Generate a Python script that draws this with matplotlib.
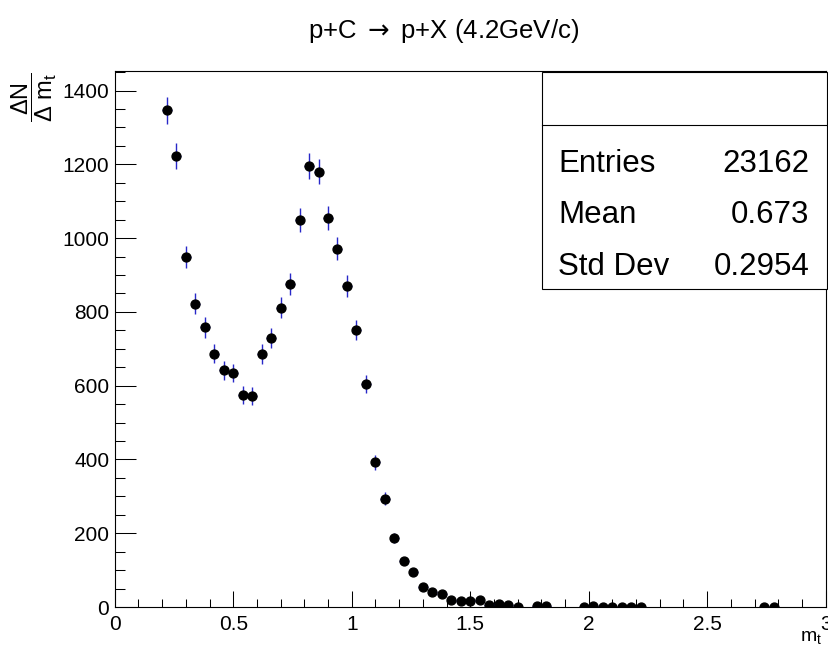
import numpy as np
import matplotlib
matplotlib.use("Agg")
import matplotlib.pyplot as plt
from matplotlib.ticker import MultipleLocator
from matplotlib.patches import Rectangle

plt.rcParams['font.family'] = ['Liberation Sans', 'DejaVu Sans']
plt.rcParams['mathtext.fontset'] = 'custom'
plt.rcParams['mathtext.rm'] = 'Liberation Sans'
plt.rcParams['mathtext.it'] = 'Liberation Sans:italic'
plt.rcParams['mathtext.sf'] = 'DejaVu Sans'

# ----------------------------- DATA ----------------------------- #

# bin centres (bin width 0.04, only non-empty bins are drawn)
m_t = [0.22, 0.26, 0.30, 0.34, 0.38, 0.42, 0.46, 0.50, 0.54, 0.58,
       0.62, 0.66, 0.70, 0.74, 0.78, 0.82, 0.86, 0.90, 0.94, 0.98,
       1.02, 1.06, 1.10, 1.14, 1.18, 1.22, 1.26, 1.30, 1.34, 1.38,
       1.42, 1.46, 1.50, 1.54, 1.58, 1.62, 1.66, 1.70, 1.78, 1.82,
       1.98, 2.02, 2.06, 2.10, 2.14, 2.18, 2.22, 2.74, 2.78]
counts = [1347, 1223, 949, 822, 758, 687, 642, 634, 574, 572,
          686, 729, 811, 876, 1049, 1196, 1180, 1054, 971, 871,
          750, 604, 392, 294, 186, 125, 95, 55, 41, 36,
          19, 17, 15, 18, 5, 7, 5, 1, 3, 3,
          1, 4, 1, 1, 1, 1, 1, 1, 1]
bin_width = 0.04

title = r"p+C $\mathsf{\rightarrow}$ p+X (4.2GeV/c)"
stats_names = ["Entries", "Mean", "Std Dev"]
stats_values = ["23162", "0.673", "0.2954"]

# ----------------------------- PLOT ----------------------------- #

fig = plt.figure(figsize=(8.29, 6.49), dpi=100)
ax = fig.add_axes([0.1384, 0.0647, 0.9960 - 0.1384, 0.8906 - 0.0647])

x = np.array(m_t)
y = np.array(counts, dtype=float)
ax.errorbar(x, y, yerr=np.sqrt(y), xerr=bin_width / 2, fmt='none',
            ecolor='#2828c8', elinewidth=1.0, capsize=0, zorder=2)
ax.plot(x, y, 'o', color='black', markersize=6.4, zorder=3)

ax.set_xlim(0, 3)
ax.set_ylim(0, 1453)

ax.xaxis.set_major_locator(MultipleLocator(0.5))
ax.xaxis.set_minor_locator(MultipleLocator(0.1))
ax.yaxis.set_major_locator(MultipleLocator(200))
ax.yaxis.set_minor_locator(MultipleLocator(50))
ax.xaxis.set_major_formatter(plt.FuncFormatter(lambda v, p: f"{v:g}"))

ax.tick_params(axis='x', which='major', direction='in', length=11.5, width=0.75,
               labelsize=15, pad=6)
ax.tick_params(axis='x', which='minor', direction='in', length=5.8, width=0.75)
ax.tick_params(axis='y', which='major', direction='in', length=15, width=0.75,
               labelsize=15, pad=4)
ax.tick_params(axis='y', which='minor', direction='in', length=7.5, width=0.75)

for s in ax.spines.values():
    s.set_linewidth(0.8)
    s.set_color('black')

# title
fig.text(0.535, 0.941, title, ha='center', va='baseline', fontsize=18.5)

# axis titles
fig.text(0.042, 0.850, r"$\dfrac{\Delta\mathrm{N}}{\Delta\ \mathrm{m}_{\mathrm{t}}}$",
         rotation=90, ha='center', va='center', fontsize=17)
fig.text(0.9915, 0.004, r"$\mathrm{m}_{\mathrm{t}}$", ha='right', va='bottom', fontsize=14)

# stats box
bx0, bx1 = 541.7 / 829, 826.7 / 829
by0, by1 = 1 - 289.3 / 649, 1 - 71.7 / 649
fig.patches.append(Rectangle((bx0, by0), bx1 - bx0, by1 - by0, transform=fig.transFigure,
                             facecolor='white', edgecolor='black', linewidth=0.8, zorder=5))
ydiv = 1 - 125 / 649
fig.add_artist(plt.Line2D([bx0, bx1], [ydiv, ydiv], transform=fig.transFigure,
                          color='black', linewidth=0.8, zorder=6))
rows_y = [0.7354, 0.6559, 0.5763]
for name, val, ry in zip(stats_names, stats_values, rows_y):
    fig.text(0.6735, ry, name, ha='left', va='baseline', fontsize=22.5, zorder=7)
    fig.text(0.9762, ry, val, ha='right', va='baseline', fontsize=22.5, zorder=7)

fig.savefig("out.png", dpi=100)
